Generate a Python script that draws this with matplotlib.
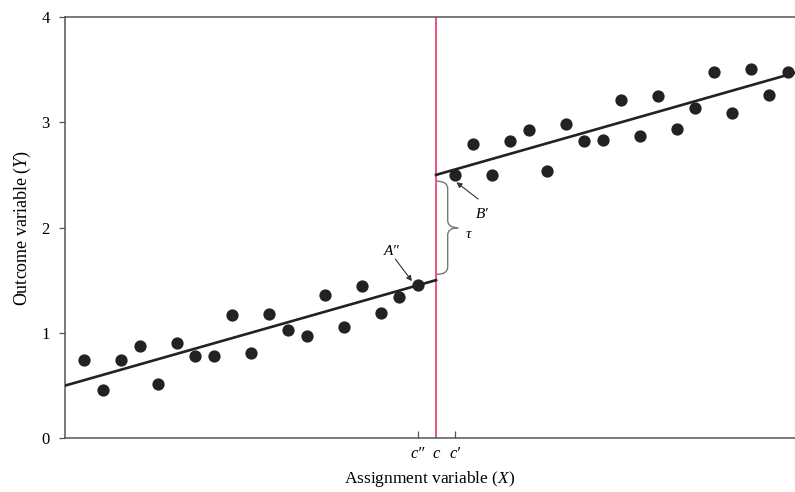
import numpy as np
import matplotlib
matplotlib.use("Agg")
import matplotlib.pyplot as plt
from matplotlib.path import Path
from matplotlib.patches import PathPatch

# dados (X centrado no ponto de corte c = 0)
x_esq = np.arange(-19, 0)
y_esq = [0.74, 0.46, 0.74, 0.87, 0.51, 0.90, 0.78, 0.78, 1.17, 0.81,
         1.18, 1.03, 0.97, 1.36, 1.05, 1.44, 1.19, 1.34, 1.45]
x_dir = np.arange(1, 20)
y_dir = [2.50, 2.79, 2.50, 2.82, 2.93, 2.54, 2.98, 2.82, 2.83, 3.21,
         2.87, 3.25, 2.94, 3.14, 3.48, 3.09, 3.51, 3.26, 3.48]

# retas de regressao de cada lado do corte
intercepto_esq, intercepto_dir, inclinacao = 1.5, 2.5, 0.05
corte = 0.0

x_ticks = [-1, 0, 1]
x_ticklabels = ["c\u2033", "c", "c\u2032"]
y_ticks = [0, 1, 2, 3, 4]

plt.rcParams['font.family'] = ['Liberation Serif', 'DejaVu Serif']
plt.rcParams['mathtext.fontset'] = 'custom'
plt.rcParams['mathtext.rm'] = 'Liberation Serif'
plt.rcParams['mathtext.it'] = 'Liberation Serif:italic'

fig = plt.figure(figsize=(7.95, 4.92), dpi=100)
ax = fig.add_axes([0.0818, 0.1098, 0.9182, 0.8556])

xmin, xmax = -20.05, 19.4
ax.set_xlim(xmin, xmax)
ax.set_ylim(0, 4)

# retas
xl = np.array([xmin, corte])
xr = np.array([corte, xmax])
ax.plot(xl, intercepto_esq + inclinacao * xl, color='#222222', lw=1.9, zorder=3)
ax.plot(xr, intercepto_dir + inclinacao * xr, color='#222222', lw=1.9, zorder=3)

# pontos
ax.scatter(x_esq, y_esq, s=78, color='#222222', zorder=4, linewidths=0)
ax.scatter(x_dir, y_dir, s=78, color='#222222', zorder=4, linewidths=0)

# linha do corte
ax.axvline(corte, color='#ec4a6e', lw=1.3, zorder=2)

# chave indicando o salto tau
topo = intercepto_dir - 0.06
base = intercepto_esq + 0.055
meio = (topo + base) / 2
x0, x1, x2 = 0.04, 0.63, 1.2
r = 0.07
verts = [(x0, topo), (x1, topo), (x1, topo - r),
         (x1, meio + r),
         (x1, meio), (x2, meio),
         (x1, meio), (x1, meio - r),
         (x1, base + r),
         (x1, base), (x0, base)]
codes = [Path.MOVETO, Path.CURVE3, Path.CURVE3,
         Path.LINETO,
         Path.CURVE3, Path.CURVE3,
         Path.CURVE3, Path.CURVE3,
         Path.LINETO,
         Path.CURVE3, Path.CURVE3]
ax.add_patch(PathPatch(Path(verts, codes), fill=False, edgecolor='#777777', lw=1.0, zorder=3))
ax.text(1.73, 1.93, "\u03c4", fontsize=11, style='italic', ha='center', va='center')

# anotacoes A'' e B'
seta = dict(arrowstyle='-|>', color='#333333', lw=0.8, mutation_scale=8, shrinkA=0, shrinkB=0)
ax.text(-2.4, 1.77, "A\u2033", fontsize=11, style='italic', ha='center', va='center')
ax.annotate('', xy=(-1.3, 1.49), xytext=(-2.2, 1.70), arrowprops=seta)
ax.text(2.5, 2.12, "B\u2032", fontsize=11, style='italic', ha='center', va='center')
ax.annotate('', xy=(1.1, 2.43), xytext=(2.28, 2.27), arrowprops=seta)

# eixos
for lado in ['left', 'bottom', 'top']:
    ax.spines[lado].set_color('#555555')
    ax.spines[lado].set_linewidth(1.1)
ax.spines['right'].set_visible(False)

ax.set_yticks(y_ticks)
ax.tick_params(axis='y', direction='out', length=4, width=0.9, color='#555555',
               labelsize=12, pad=7)
ax.set_xticks(x_ticks)
ax.set_xticklabels(x_ticklabels, fontstyle='italic')
ax.tick_params(axis='x', direction='in', length=5, width=0.9, color='#555555',
               labelsize=12, pad=6)
ax.xaxis.get_major_ticks()[1].tick1line.set_visible(False)

ax.set_xlabel("Assignment variable ($X$)", fontsize=12.5, labelpad=5)
ax.set_ylabel("Outcome variable ($Y$)", fontsize=13, labelpad=6)

fig.savefig("out.png", dpi=100)
